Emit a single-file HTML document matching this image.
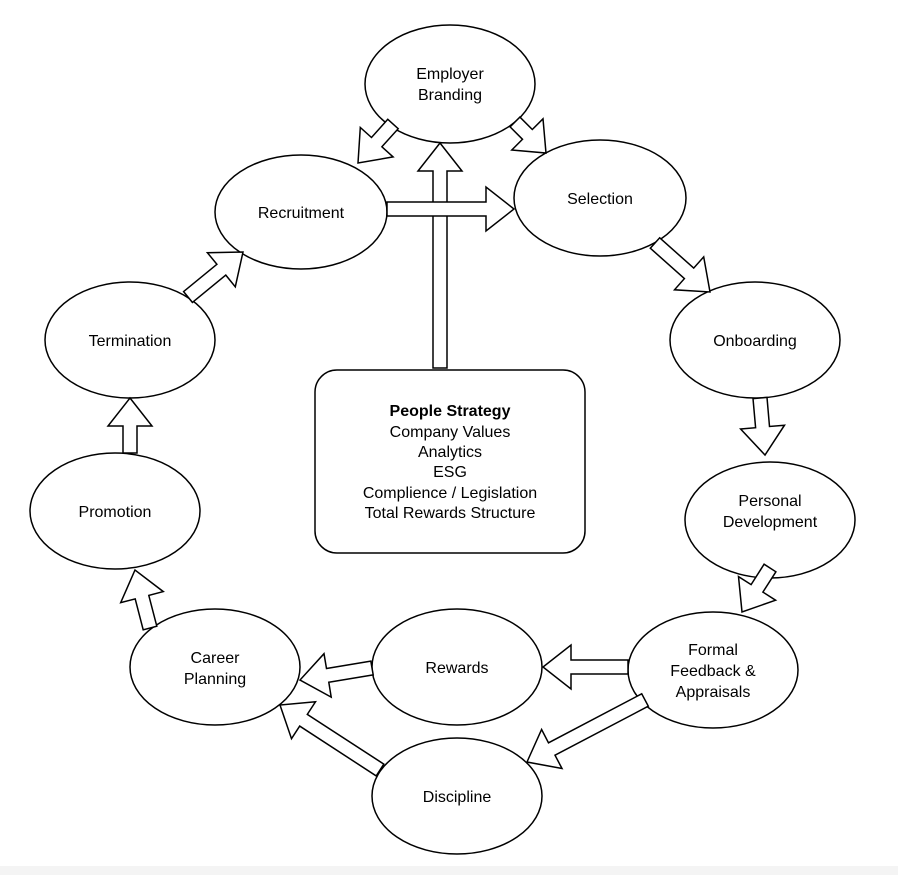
<!DOCTYPE html>
<html><head><meta charset="utf-8"><style>
html,body{margin:0;padding:0;background:#fff;}
svg{display:block;font-family:"Liberation Sans",Arial,sans-serif;}
</style></head><body>
<svg id="s" width="898" height="875" viewBox="0 0 898 875" xmlns="http://www.w3.org/2000/svg">
<rect x="0" y="0" width="898" height="875" fill="#fff"/>
<rect x="0" y="866" width="898" height="9" fill="#f4f4f4"/>
<g fill="#fff" stroke="#000" stroke-width="1.5">
<ellipse cx="450" cy="84" rx="85" ry="59"/>
<ellipse cx="600" cy="198" rx="86" ry="58"/>
<ellipse cx="301" cy="212" rx="86" ry="57"/>
<ellipse cx="130" cy="340" rx="85" ry="58"/>
<ellipse cx="755" cy="340" rx="85" ry="58"/>
<ellipse cx="115" cy="511" rx="85" ry="58"/>
<ellipse cx="770" cy="520" rx="85" ry="58"/>
<ellipse cx="215" cy="667" rx="85" ry="58"/>
<ellipse cx="457" cy="667" rx="85" ry="58"/>
<ellipse cx="713" cy="670" rx="85" ry="58"/>
<ellipse cx="457" cy="796" rx="85" ry="58"/>
<rect x="315" y="370" width="270" height="183" rx="22" ry="22"/>
</g>
<g id="arrows" fill="#fff" stroke="#000" stroke-width="1.5" stroke-linejoin="miter"></g>
<g font-size="16" fill="#000" text-anchor="middle">
<text x="450" y="79">Employer</text><text x="450" y="100">Branding</text>
<text x="600" y="204">Selection</text>
<text x="301" y="218">Recruitment</text>
<text x="130" y="346">Termination</text>
<text x="755" y="346">Onboarding</text>
<text x="115" y="517">Promotion</text>
<text x="770" y="506">Personal</text><text x="770" y="527">Development</text>
<text x="215" y="663">Career</text><text x="215" y="684">Planning</text>
<text x="457" y="673">Rewards</text>
<text x="713" y="655">Formal</text><text x="713" y="676">Feedback &amp;</text><text x="713" y="697">Appraisals</text>
<text x="457" y="802">Discipline</text>
<text x="450" y="416" font-weight="bold">People Strategy</text>
<text x="450" y="437">Company Values</text>
<text x="450" y="457">Analytics</text>
<text x="450" y="477">ESG</text>
<text x="450" y="498">Complience / Legislation</text>
<text x="450" y="518">Total Rewards Structure</text>
</g>
</svg>
<script>
var A=[[393,124,358,163],[515,122,546,153],[440,368,440,143],[387,209,514,209],[655,243,710,292],[188,297,243,252],[760,398,765,455],[130,453,130,398],[770,568,742,612],[150,628,135,570],[628,667,543,667],[372,668,300,680],[645,700,527,762],[380,770,280,705]];
var g=document.getElementById('arrows');
A.forEach(function(a){var x1=a[0],y1=a[1],x2=a[2],y2=a[3];var dx=x2-x1,dy=y2-y1,L=Math.hypot(dx,dy);var ux=dx/L,uy=dy/L,px=-uy,py=ux;var sw=7,hw=22,hl=Math.min(28,L*0.6);var bx=x2-ux*hl,by=y2-uy*hl;
var p=[[x1+px*sw,y1+py*sw],[bx+px*sw,by+py*sw],[bx+px*hw,by+py*hw],[x2,y2],[bx-px*hw,by-py*hw],[bx-px*sw,by-py*sw],[x1-px*sw,y1-py*sw]];
var e=document.createElementNS('http://www.w3.org/2000/svg','polygon');e.setAttribute('points',p.map(function(q){return q[0].toFixed(1)+','+q[1].toFixed(1)}).join(' '));g.appendChild(e);});
</script>
</body></html>
